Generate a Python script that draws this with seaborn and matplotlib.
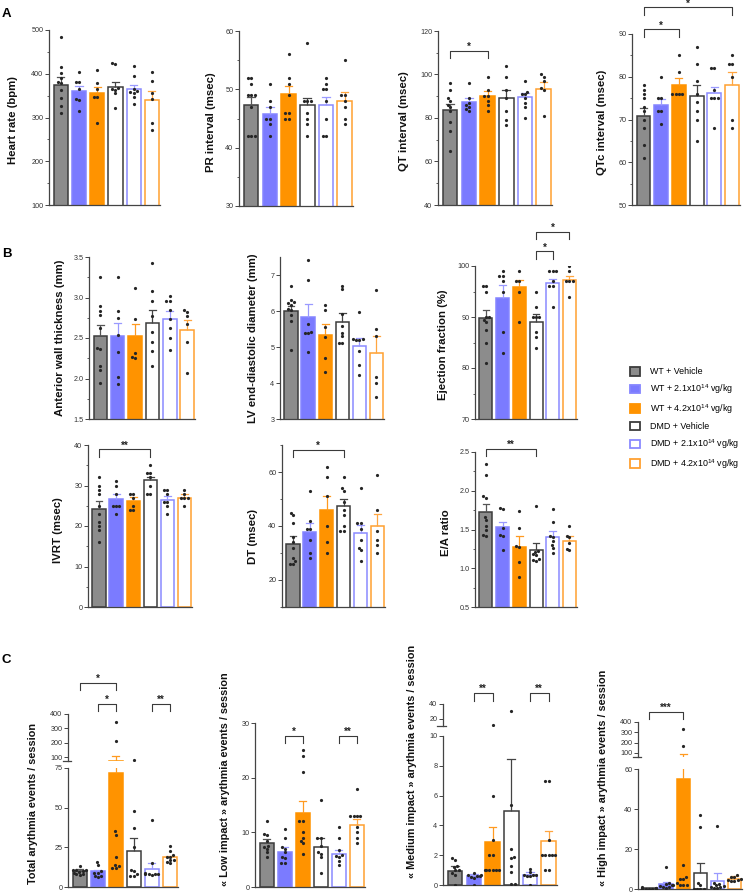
import warnings
import numpy as np
import pandas as pd
import matplotlib
matplotlib.use('Agg')
import matplotlib.pyplot as plt
from matplotlib.patches import Patch
from matplotlib.ticker import FixedLocator, MultipleLocator
import seaborn as sns

warnings.filterwarnings('ignore')
plt.rcParams['font.family'] = ['Liberation Sans', 'DejaVu Sans']

# ---------------- data ----------------
groups = ['WT + Vehicle', 'WT + 2.1', 'WT + 4.2', 'DMD + Vehicle', 'DMD + 2.1', 'DMD + 4.2']
legend_labels = ['WT + Vehicle',
                 'WT + 2.1x10$\\mathregular{^{14}}$ vg/kg',
                 'WT + 4.2x10$\\mathregular{^{14}}$ vg/kg',
                 'DMD + Vehicle',
                 'DMD + 2.1x10$\\mathregular{^{14}}$ vg/kg',
                 'DMD + 4.2x10$\\mathregular{^{14}}$ vg/kg']

hr_mean = [374, 361, 357, 370, 365, 340]
hr_sem = [18, 12, 13, 12, 9, 21]
hr_pts = [[485, 416, 402, 390, 381, 378, 362, 345, 326, 311],
          [403, 382, 381, 366, 343, 340, 315],
          [408, 378, 366, 348, 346, 288],
          [425, 423, 368, 366, 364, 355, 322],
          [418, 395, 366, 360, 358, 357, 346, 331],
          [403, 383, 356, 343, 288, 272]]

pr_mean = [47.4, 45.8, 49.2, 47.3, 47.4, 48.0]
pr_sem = [1.3, 1.1, 1.4, 1.3, 1.3, 1.6]
pr_pts = [[52, 52, 51, 49, 49, 49, 47, 42, 42, 42],
          [51, 48, 47, 45, 45, 44, 42],
          [56, 52, 51, 49, 46, 46, 45, 45],
          [58, 48, 48, 48, 46, 45, 44, 42],
          [52, 51, 50, 50, 48, 45, 42, 42],
          [55, 49, 49, 48, 47, 45, 44]]

qt_mean = [83.5, 87.2, 90.3, 89.2, 89.5, 93.4]
qt_sem = [3.0, 1.8, 2.2, 3.8, 1.9, 3.1]
qt_pts = [[96, 93, 89, 88, 86, 85, 83, 78, 74, 65],
          [96, 89, 87, 86, 85, 84, 83],
          [99, 93, 90, 90, 88, 86, 83],
          [104, 99, 93, 89, 83, 79, 77],
          [97, 92, 91, 91, 89, 87, 85, 80],
          [100, 99, 97, 94, 93, 81]]

qtc_mean = [70.9, 73.3, 78.1, 75.5, 76.2, 78.0]
qtc_sem = [1.8, 1.4, 1.7, 2.6, 1.4, 3.2]
qtc_pts = [[78, 77, 76, 75, 73, 72, 70, 68, 64, 61],
           [80, 75, 75, 72, 72, 69],
           [85, 81, 76, 76, 76, 76],
           [87, 83, 79, 76, 74, 72, 70, 65],
           [82, 82, 77, 75, 75, 75, 68],
           [85, 83, 83, 80, 70, 68]]

awt_mean = [2.525, 2.52, 2.53, 2.69, 2.74, 2.6]
awt_sem = [0.135, 0.17, 0.14, 0.15, 0.09, 0.12]
awt_pts = [[3.25, 2.9, 2.83, 2.78, 2.62, 2.38, 2.36, 2.16, 2.1, 1.95],
           [3.25, 2.83, 2.75, 2.54, 2.33, 2.02, 1.93],
           [3.12, 2.74, 2.31, 2.27, 2.25],
           [3.43, 3.08, 2.96, 2.77, 2.58, 2.45, 2.34, 2.16],
           [3.02, 2.96, 2.96, 2.84, 2.73, 2.62, 2.5, 2.35],
           [2.84, 2.82, 2.77, 2.67, 2.45, 2.07]]

lv_mean = [6.0, 5.84, 5.32, 5.7, 5.02, 4.83]
lv_sem = [0.15, 0.36, 0.31, 0.25, 0.22, 0.48]
lv_pts = [[6.69, 6.3, 6.24, 6.22, 6.18, 6.05, 6.04, 5.88, 5.72, 4.92],
          [7.42, 6.86, 5.63, 5.42, 5.4, 5.38, 4.87],
          [6.17, 6.03, 5.56, 5.28, 4.7, 4.3],
          [6.7, 6.6, 5.92, 5.59, 5.4, 5.3, 5.12, 5.1],
          [5.97, 5.23, 5.22, 5.2, 5.2, 4.9, 4.5, 4.22],
          [6.58, 5.5, 5.3, 4.16, 4.0, 3.6]]

ef_mean = [89.9, 93.8, 95.8, 89.1, 96.6, 97.2]
ef_sem = [1.5, 2.4, 1.5, 1.4, 0.9, 0.8]
ef_pts = [[96, 96, 95, 90, 90, 89.5, 89, 87.5, 85, 81],
          [99, 98, 98, 97, 95, 87, 83],
          [99, 97, 97, 95, 89],
          [95, 92, 90, 90, 90, 87, 86, 84],
          [99, 99, 99, 97, 96, 96, 92],
          [100, 99, 97, 97, 97, 94]]

ivrt_mean = [24.3, 26.7, 26.1, 31.3, 26.5, 26.9]
ivrt_sem = [1.8, 1.2, 1.0, 0.8, 0.8, 0.9]
ivrt_pts = [[32, 30, 29, 28, 25, 23, 21, 20, 19, 16],
            [31, 30, 28, 25, 25, 25, 23],
            [28, 28, 27, 25, 24, 24],
            [35, 33, 33, 32, 30, 28, 28],
            [29, 29, 28, 26, 26, 25, 23],
            [29, 28, 27, 27, 27, 25]]

dt_mean = [33.5, 37.9, 45.8, 47.5, 37.5, 40.0]
dt_sem = [2.8, 3.3, 5.4, 2.4, 2.7, 4.6]
dt_pts = [[45, 44, 41, 36, 34, 32, 28, 27, 26, 26],
          [53, 42, 39, 39, 35, 30, 28],
          [62, 58, 51, 40, 34, 30],
          [58, 54, 53, 49, 46, 44, 40, 38, 38],
          [54, 41, 41, 39, 35, 32, 31, 27],
          [59, 46, 38, 35, 33, 30]]

ea_mean = [1.72, 1.53, 1.28, 1.23, 1.40, 1.35]
ea_sem = [0.11, 0.07, 0.13, 0.09, 0.08, 0.06]
ea_pts = [[2.34, 2.2, 1.93, 1.91, 1.66, 1.62, 1.54, 1.49, 1.43, 1.41],
          [1.78, 1.76, 1.52, 1.43, 1.41, 1.24],
          [1.74, 1.52, 1.29, 1.27, 1.08, 0.89],
          [1.8, 1.22, 1.21, 1.18, 1.17, 1.12, 1.11, 1.1],
          [1.77, 1.6, 1.41, 1.4, 1.35, 1.3, 1.26, 1.2],
          [1.54, 1.42, 1.4, 1.32, 1.25, 1.23]]

tot_mean = [9.9, 9.9, 71.7, 23.0, 11.5, 18.7]
tot_sem = [1.4, 1.0, 37, 7.8, 3.5, 1.1]
tot_pts = [[13, 11, 10.5, 10.5, 10, 9.5, 9, 8, 8, 7.5],
           [16, 14, 10, 9, 9, 7, 7, 6.5],
           [345, 210, 35, 33, 19, 14, 13, 12, 12],
           [82, 48, 37, 25, 11, 10, 8, 7, 7],
           [42, 15, 9, 8, 8, 8, 8, 7.5],
           [26, 23, 20, 19, 19, 17, 17, 16, 15]]

low_mean = [8.0, 6.4, 13.5, 7.3, 6.1, 11.4]
low_sem = [0.7, 0.9, 2.3, 1.6, 0.7, 1.0]
low_pts = [[12, 9.7, 9.5, 8.5, 7.5, 7.3, 7, 6.4, 5.4],
           [10.6, 8.9, 7.3, 7, 6.4, 5.5, 5.3, 4.4, 4.3],
           [25, 24, 21, 12, 12, 10, 9, 8.5, 8, 6],
           [16, 9, 9, 7.5, 6.4, 6, 5.4, 2.5],
           [11, 9, 6.8, 5.8, 5.6, 5.5, 4.7, 4.1],
           [18, 13, 13, 13, 13, 11, 10, 9, 8]]

med_mean = [0.96, 0.63, 2.86, 5.0, 0.67, 2.97]
med_sem = [0.34, 0.11, 1.04, 3.43, 0.18, 0.68]
med_pts = [[1.8, 1.7, 1.3, 1.2, 1, 1, 0.8, 0.7, 0],
           [0.8, 0.7, 0.67, 0.6, 0.6, 0.55, 0.5, 0],
           [12, 6, 3, 2, 2, 1, 1, 1, 1, 1, 1],
           [31, 5.4, 2.4, 1.9, 1.8, 1.3, 0.9, 0.1, 0.1],
           [1.1, 0.85, 0.7, 0.7, 0.65, 0.6, 0.6, 0],
           [7, 7, 3, 2, 2, 2, 2, 2, 1, 1]]

high_mean = [0.3, 2.3, 55, 7.8, 4.2, 5.0]
high_sem = [0.3, 1.4, 32, 5.4, 3.6, 1.7]
high_pts = [[1, 0.5, 0.5, 0.3, 0.2, 0, 0, 0, 0, 0],
            [11, 3, 2.5, 2, 2, 1.5, 1, 1, 0.5],
            [334, 168, 12, 6, 5, 5, 3, 2, 2, 2],
            [37, 31, 3, 2, 0, 0, 0, 0],
            [31.5, 3, 2.5, 2, 1.5, 1, 1, 0.5, 0.5],
            [7, 6, 6, 5, 4.5, 4.5, 4, 4]]

# ---------------- style ----------------
fills = ['#8c8c8c', '#7b7bff', '#ff9300', 'white', 'white', 'white']
edges = ['#3c3c3c', '#8585ff', '#ff9300', '#3c3c3c', '#8a8aff', '#ffa030']
errc = ['#555555', '#9a9aff', '#ff9a20', '#444444', '#9a9aff', '#ffa640']
dot_col = '#262626'
axc = '#444444'

W, H = 748, 892
fig = plt.figure(figsize=(W / 100, H / 100), dpi=100)


def make_ax(l, t, r, b):
    return fig.add_axes([l / W, 1 - b / H, (r - l) / W, (b - t) / H])


def draw(ax, means, sems, pts, ylim, majors, minor=None, bottom=True, keep=None):
    ax.set_ylim(*ylim)
    sns.barplot(x=groups, y=means, order=groups, color='white', width=0.78,
                errorbar=None, ax=ax, zorder=1)
    for p, fc, ec in zip(ax.patches, fills, edges):
        p.set_facecolor(fc)
        p.set_edgecolor(ec)
        p.set_linewidth(1.1)
    for i, (m, s) in enumerate(zip(means, sems)):
        ax.plot([i, i], [m, m + s], color=errc[i], lw=0.9, zorder=2, solid_capstyle='butt')
        ax.plot([i - 0.2, i + 0.2], [m + s, m + s], color=errc[i], lw=0.9, zorder=2)
    rows = [(g, v) for g, vals in zip(groups, pts) for v in vals
            if keep is None or keep[0] <= v <= keep[1]]
    df = pd.DataFrame(rows, columns=['group', 'value'])
    if len(df):
        sns.swarmplot(data=df, x='group', y='value', order=groups, color=dot_col,
                      size=2.3, ax=ax, zorder=3)
    ax.set_ylim(*ylim)
    ax.set_xlim(-0.65, 5.45)
    ax.set_xticks([])
    ax.set_xlabel('')
    ax.set_ylabel('')
    ax.yaxis.set_major_locator(FixedLocator(majors))
    if minor:
        ax.yaxis.set_minor_locator(MultipleLocator(minor))
    ax.spines['top'].set_visible(False)
    ax.spines['right'].set_visible(False)
    ax.spines['bottom'].set_visible(bottom)
    for s in ['left', 'bottom']:
        ax.spines[s].set_color(axc)
        ax.spines[s].set_linewidth(0.9)
    ax.tick_params(axis='y', which='major', length=2.6, width=0.7, pad=1.5,
                   labelsize=5.2, color=axc, labelcolor='#333333')
    ax.tick_params(axis='y', which='minor', length=1.5, width=0.6, color=axc)
    ax.set_facecolor('none')


def bracket(ax, x1, x2, y, label, drop_px=7.5):
    y_disp = ax.transData.transform((0, y))[1]
    y_low = ax.transData.inverted().transform((0, y_disp - drop_px))[1]
    ax.plot([x1, x1, x2, x2], [y_low, y, y, y_low], color='#3a3a3a', lw=0.8,
            clip_on=False, zorder=4)
    ax.annotate(label, xy=((x1 + x2) / 2, y), xytext=(0, 0.6), textcoords='offset points',
                ha='center', va='baseline', fontsize=7, fontweight='bold', color='#222222',
                annotation_clip=False)


def break_mark(ax, where):
    ax.plot([-0.05, 0.03], [where, where], transform=ax.transAxes, color=axc, lw=0.9,
            clip_on=False)


def ylab(x, y, text, size=8.2):
    fig.text(x / W, 1 - y / H, text, rotation=90, ha='center', va='center',
             fontsize=size, fontweight='bold', color='#111111')


# ---------------- panel A ----------------
ax = make_ax(49, 30, 160, 205)
draw(ax, hr_mean, hr_sem, hr_pts, (100, 500), [100, 200, 300, 400, 500], 50)
ylab(13, 120, 'Heart rate (bpm)')

ax = make_ax(239, 31, 353, 206)
draw(ax, pr_mean, pr_sem, pr_pts, (30, 60), [30, 40, 50, 60], 5)
ylab(211, 122, 'PR interval (msec)')

ax = make_ax(438, 31, 552, 205)
draw(ax, qt_mean, qt_sem, qt_pts, (40, 120), [40, 60, 80, 100, 120], 10)
bracket(ax, 0, 2, 111, '*')
ylab(404, 121, 'QT interval (msec)')

ax = make_ax(632, 34, 740, 205)
draw(ax, qtc_mean, qtc_sem, qtc_pts, (50, 90), [50, 60, 70, 80, 90], 5)
bracket(ax, 0, 2, 91.1, '*')
bracket(ax, 0, 5, 96.25, '*')
ylab(602, 122, 'QTc interval (msec)')

# ---------------- panel B ----------------
ax = make_ax(89, 257, 195, 419)
draw(ax, awt_mean, awt_sem, awt_pts, (1.5, 3.5), [1.5, 2.0, 2.5, 3.0, 3.5], 0.25)
ylab(60, 338, 'Anterior wall thickness (mm)')

ax = make_ax(280, 257, 384, 419)
draw(ax, lv_mean, lv_sem, lv_pts, (3, 7.5), [3, 4, 5, 6, 7])
ylab(253, 338, 'LV end-diastolic diameter (mm)')

ax = make_ax(475, 266, 577, 419)
draw(ax, ef_mean, ef_sem, ef_pts, (70, 100), [70, 80, 90, 100], 5)
bracket(ax, 3, 4, 102.9, '*')
bracket(ax, 3, 5, 106.75, '*')
ylab(443, 345, 'Ejection fraction (%)')

ax = make_ax(88, 445, 192, 607)
draw(ax, ivrt_mean, ivrt_sem, ivrt_pts, (0, 40), [0, 10, 20, 30, 40], 5)
bracket(ax, 0, 3, 38.9, '**')
ylab(58, 530, 'IVRT (msec)')

ax = make_ax(282, 445, 385, 607)
draw(ax, dt_mean, dt_sem, dt_pts, (10, 70), [20, 40, 60], 10)
bracket(ax, 0, 3, 68.2, '*')
ylab(253, 536, 'DT (msec)')

ax = make_ax(475, 452, 577, 607)
draw(ax, ea_mean, ea_sem, ea_pts, (0.5, 2.5), [0.5, 1.0, 1.5, 2.0, 2.5], 0.25)
bracket(ax, 0, 3, 2.54, '**')
ylab(446, 533, 'E/A ratio')

fig.legend(handles=[Patch(facecolor=fc, edgecolor=ec, linewidth=1.3)
                    for fc, ec in zip(fills, edges)],
           labels=legend_labels, loc='upper left',
           bbox_to_anchor=(630 / W, 1 - 367 / H), frameon=False, fontsize=6.4,
           handlelength=1.1, handleheight=1.1, labelspacing=0.68, handletextpad=1.2,
           borderaxespad=0, borderpad=0)

# ---------------- panel C ----------------
up = make_ax(68, 714, 178, 761)
draw(up, tot_mean, tot_sem, tot_pts, (75, 400), [100, 200, 300, 400], bottom=False,
     keep=(75, 1000))
lo = make_ax(68, 768, 178, 887)
draw(lo, tot_mean, tot_sem, tot_pts, (0, 75), [0, 25, 50, 75], keep=(0, 75))
break_mark(up, 0)
bracket(up, 0, 2, 617, '*')
bracket(up, 1, 2, 470, '*')
bracket(up, 4, 5, 470, '**')
ylab(33, 803, 'Total arythmia events / session', 7.8)

ax = make_ax(255, 723, 365, 887)
draw(ax, low_mean, low_sem, low_pts, (0, 30), [0, 10, 20, 30])
bracket(ax, 1, 2, 27.7, '*')
bracket(ax, 4, 5, 27.7, '**')
ylab(225, 779, '\u00ab Low impact \u00bb arythmia events / session', 7.8)

up = make_ax(443, 704, 557, 726)
draw(up, med_mean, med_sem, med_pts, (10, 40), [20, 40], bottom=False, keep=(10.01, 1000))
lo = make_ax(443, 736, 557, 885)
draw(lo, med_mean, med_sem, med_pts, (0, 10), [0, 2, 4, 6, 8, 10], keep=(0, 10))
break_mark(up, 0)
bracket(up, 1, 2, 55, '**')
bracket(up, 4, 5, 55, '**')
ylab(412, 761, '\u00ab Medium impact \u00bb arythmia events / session', 7.8)

up = make_ax(638, 722, 742, 757)
draw(up, high_mean, high_sem, high_pts, (60, 400), [100, 200, 300, 400], bottom=False,
     keep=(60.01, 1000))
lo = make_ax(638, 769, 742, 889)
draw(lo, high_mean, high_sem, high_pts, (0, 60), [0, 20, 40, 60], keep=(0, 60))
break_mark(up, 0)
bracket(up, 0, 2, 498, '***')
ylab(603, 778, '\u00ab High impact \u00bb arythmia events / session', 7.8)

# panel letters
for letter, yb in [('A', 17), ('B', 257), ('C', 663)]:
    fig.text(2 / W, 1 - yb / H, letter, fontsize=9.5, fontweight='bold', va='baseline')

fig.savefig('out.png', dpi=100)
